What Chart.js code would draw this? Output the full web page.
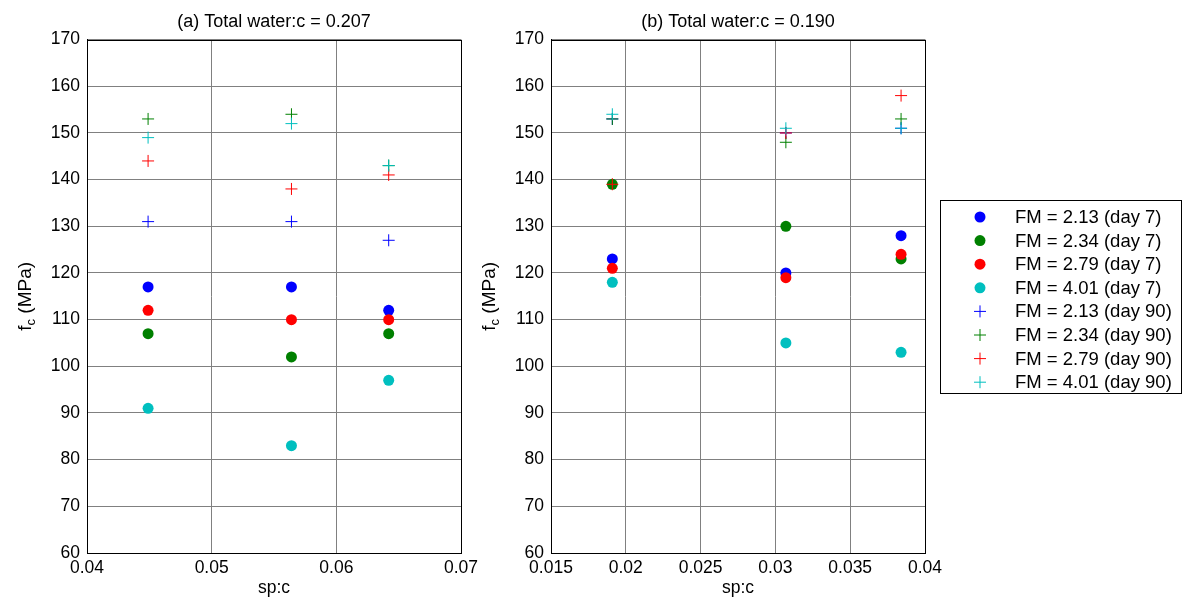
<!DOCTYPE html>
<html lang="en">
<head>
<meta charset="UTF-8">
<title>fc vs sp:c</title>
<script src="https://cdn.jsdelivr.net/npm/chart.js"></script>
<style>
  html, body { margin: 0; padding: 0; background: #fff; }
  #wrap { position: relative; width: 1189px; height: 601px; }
  #wrap canvas { position: absolute; top: 0; }
  #chartA { left: 0; }
  #chartB { left: 480px; }
</style>
</head>
<body>
<div id="wrap">
  <canvas id="chartA" width="480" height="601"></canvas>
  <canvas id="chartB" width="709" height="601"></canvas>
</div>
<script>
// ---- data ----
const fmValues = ['2.13', '2.34', '2.79', '4.01'];
const spcA = [0.0449, 0.0564, 0.0642];
const spcB = [0.0191, 0.0307, 0.0384];
const xTicksA = [0.04, 0.05, 0.06, 0.07];
const xTicksB = [0.015, 0.02, 0.025, 0.03, 0.035, 0.04];
const yTicks = [60, 70, 80, 90, 100, 110, 120, 130, 140, 150, 160, 170];

// one row per FM value, one column per sp:c point
const day7A  = [[117, 117, 112], [107, 102, 107], [112, 110, 110], [91, 83, 97]];
const day90A = [[131, 131, 127], [153, 154, 143], [144, 138, 141], [149, 152, 143]];
const day7B  = [[123, 120, 128], [139, 130, 123], [121, 119, 124], [118, 105, 103]];
const day90B = [[153, 150, 151], [153, 148, 153], [139, 150, 158], [154, 151, 151]];

const colors = ['#0000ff', '#008000', '#ff0000', '#00bfbf'];
const FONT = '"Liberation Sans", Arial, Helvetica, sans-serif';

function makeDatasets(xs, d7, d90) {
    const sets = [];
    d7.forEach((row, i) => sets.push({
        label: 'FM = ' + fmValues[i] + ' (day 7)',
        data: row.map((y, j) => ({ x: xs[j], y: y })),
        pointStyle: 'circle', radius: 5.5, borderWidth: 0,
        backgroundColor: colors[i], borderColor: colors[i]
    }));
    d90.forEach((row, i) => sets.push({
        label: 'FM = ' + fmValues[i] + ' (day 90)',
        data: row.map((y, j) => ({ x: xs[j], y: y })),
        pointStyle: 'cross', radius: 6, borderWidth: 1,
        backgroundColor: colors[i], borderColor: colors[i]
    }));
    // later series drawn on top, like the original
    sets.forEach((s, k) => { s.order = sets.length - k; });
    return sets;
}

// black box round the plot area
const framePlugin = {
    id: 'frame',
    afterDraw(chart) {
        const a = chart.chartArea, ctx = chart.ctx;
        ctx.save();
        ctx.strokeStyle = '#000';
        ctx.lineWidth = 1;
        ctx.strokeRect(Math.round(a.left) + 0.5, Math.round(a.top) + 0.5,
                       Math.round(a.right - a.left), Math.round(a.bottom - a.top));
        ctx.restore();
    }
};

// rotated "f_c (MPa)" with a real subscript
function yTitlePlugin(cx) {
    return {
        id: 'ytitle',
        afterDraw(chart) {
            const ctx = chart.ctx;
            const a = chart.chartArea;
            const big = '19px ' + FONT, small = '13px ' + FONT;
            ctx.save();
            ctx.translate(cx, (a.top + a.bottom) / 2);
            ctx.rotate(-Math.PI / 2);
            ctx.fillStyle = '#000';
            ctx.textBaseline = 'alphabetic';
            ctx.font = big;
            const wf = ctx.measureText('f').width;
            const wr = ctx.measureText(' (MPa)').width;
            ctx.font = small;
            const wc = ctx.measureText('c').width;
            let x = -(wf + wc + wr) / 2;
            ctx.font = big;
            ctx.fillText('f', x, 6);
            x += wf;
            ctx.font = small;
            ctx.fillText('c', x, 10);
            x += wc;
            ctx.font = big;
            ctx.fillText(' (MPa)', x, 6);
            ctx.restore();
        }
    };
}

// boxed legend to the right of panel (b)
const legendPlugin = {
    id: 'boxLegend',
    afterDraw(chart) {
        const ctx = chart.ctx;
        const left = 460, top = 200, w = 241, h = 193;
        ctx.save();
        ctx.fillStyle = '#fff';
        ctx.fillRect(left, top, w, h);
        ctx.strokeStyle = '#000';
        ctx.lineWidth = 1;
        ctx.strokeRect(left + 0.5, top + 0.5, w, h);
        ctx.font = '18.5px ' + FONT;
        ctx.textBaseline = 'middle';
        chart.data.datasets.forEach((ds, i) => {
            const y = top + 17 + i * 23.6;
            ctx.fillStyle = ds.backgroundColor;
            ctx.strokeStyle = ds.borderColor;
            ctx.lineWidth = ds.borderWidth || 1;
            Chart.helpers.drawPoint(ctx, {
                pointStyle: ds.pointStyle, radius: ds.radius,
                borderWidth: ds.borderWidth, rotation: 0
            }, 500, y);
            ctx.fillStyle = '#000';
            ctx.fillText(ds.label, 535, y + 1);
        });
        ctx.restore();
    }
};

function makeChart(id, title, datasets, xTicks, xMin, xMax, yWidth, padRight, titleX, extra) {
    return new Chart(document.getElementById(id), {
        type: 'scatter',
        data: { datasets: datasets },
        options: {
            responsive: false,
            animation: false,
            layout: { padding: { left: 0, right: padRight, top: 0, bottom: 0 } },
            plugins: {
                legend: { display: false },
                tooltip: { enabled: false },
                title: {
                    display: true, text: title, fullSize: false,
                    color: '#000', font: { family: FONT, size: 18, weight: 'normal' },
                    lineHeight: 1.2,
                    padding: { top: 11, bottom: 7 }
                }
            },
            scales: {
                x: {
                    type: 'linear', min: xMin, max: xMax,
                    afterFit: s => { s.height = 48; s.paddingLeft = 0; s.paddingRight = 0; },
                    afterBuildTicks: s => { s.ticks = xTicks.map(v => ({ value: v })); },
                    grid: { color: '#808080', lineWidth: 1, drawTicks: false },
                    border: { color: '#000' },
                    ticks: {
                        color: '#000', padding: 5, maxRotation: 0,
                        font: { family: FONT, size: 17.5 },
                        callback: v => String(+v.toFixed(3))
                    },
                    title: {
                        display: true, text: 'sp:c', color: '#000',
                        font: { family: FONT, size: 17.5 }, padding: { top: 0, bottom: 2 }
                    }
                },
                y: {
                    type: 'linear', min: 60, max: 170,
                    afterFit: s => { s.width = yWidth; },
                    afterBuildTicks: s => { s.ticks = yTicks.map(v => ({ value: v })); },
                    grid: { color: '#808080', lineWidth: 1, drawTicks: false },
                    border: { color: '#000' },
                    ticks: {
                        color: '#000', padding: 7,
                        font: { family: FONT, size: 17.5 }
                    }
                }
            }
        },
        plugins: [framePlugin, yTitlePlugin(titleX)].concat(extra || [])
    });
}

makeChart('chartA', '(a) Total water:c = 0.207', makeDatasets(spcA, day7A, day90A),
          xTicksA, 0.04, 0.07, 87, 19, 25);
makeChart('chartB', '(b) Total water:c = 0.190', makeDatasets(spcB, day7B, day90B),
          xTicksB, 0.015, 0.04, 71, 264, 9, [legendPlugin]);
</script>
</body>
</html>
